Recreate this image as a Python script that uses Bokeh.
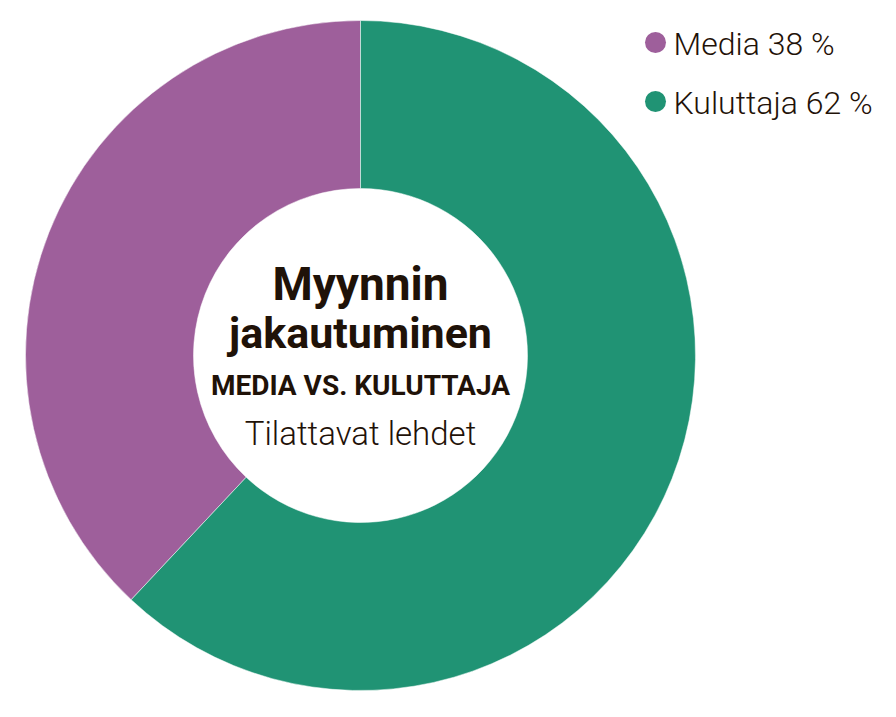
import math
from bokeh.plotting import figure
from bokeh.models import ColumnDataSource
from bokeh.core.properties import value
from bokeh.embed import file_html
from bokeh.resources import INLINE

categories = ["Media", "Kuluttaja"]
shares = [38, 62]
colors = ["#9E5F9B", "#209374"]
legend_labels = ["Media 38 %", "Kuluttaja 62 %"]
title_lines = ["Myynnin", "jakautuminen"]
subtitle = "MEDIA VS. KULUTTAJA"
caption = "Tilattavat lehdet"

W, H = 880, 701
TXT = "#1f1208"

p = figure(width=W, height=H, x_range=(0, W), y_range=(0, H),
           output_backend="svg", toolbar_location=None, min_border=0)
p.axis.visible = False
p.grid.visible = False
p.outline_line_color = None
p.background_fill_color = "white"

cx, cy = 360, H - 355
r_out, r_in = 335, 167

total = sum(shares)
media_frac = shares[0] / total
kul_frac = shares[1] / total
starts = [math.pi / 2, math.pi / 2 - kul_frac * 2 * math.pi]
ends = [math.pi / 2 + media_frac * 2 * math.pi, math.pi / 2]

src = ColumnDataSource(dict(start=starts, end=ends, color=colors, cat=categories))
p.annular_wedge(x=cx, y=cy, inner_radius=r_in, outer_radius=r_out,
                start_angle="start", end_angle="end", fill_color="color",
                line_color="white", line_width=0.5, source=src)

# center text
p.text(x=[cx], y=[H - 283], text=[title_lines[0]], text_font=value("Roboto"),
       text_font_style="bold", text_font_size="46px", text_align="center",
       text_baseline="alphabetic", text_color=TXT)
p.text(x=[cx], y=[H - 332], text=[title_lines[1]], text_font=value("Roboto"),
       text_font_style="bold", text_font_size="43px", text_align="center",
       text_baseline="alphabetic", text_color=TXT)
p.text(x=[cx], y=[H - 385], text=[subtitle], text_font=value("Roboto"),
       text_font_style="bold", text_font_size="28px", text_align="center",
       text_baseline="alphabetic", text_color=TXT)
p.text(x=[cx], y=[H - 433], text=[caption], text_font=value("Roboto Light"),
       text_font_size="33px", text_align="center",
       text_baseline="alphabetic", text_color=TXT)

# legend
leg_y = [H - 42, H - 101]
leg = ColumnDataSource(dict(x=[655, 655], y=leg_y, color=colors, label=legend_labels,
                            tx=[673, 673], ty=[v - 1 for v in leg_y]))
p.scatter(x="x", y="y", size=21, marker="circle", fill_color="color",
          line_color=None, source=leg)
p.text(x="tx", y="ty", text="label", text_font=value("Roboto Light"),
       text_font_size="32px", text_align="left", text_baseline="alphabetic",
       text_color=TXT, source=leg)

open("out.html", "w").write(file_html(p, INLINE))
